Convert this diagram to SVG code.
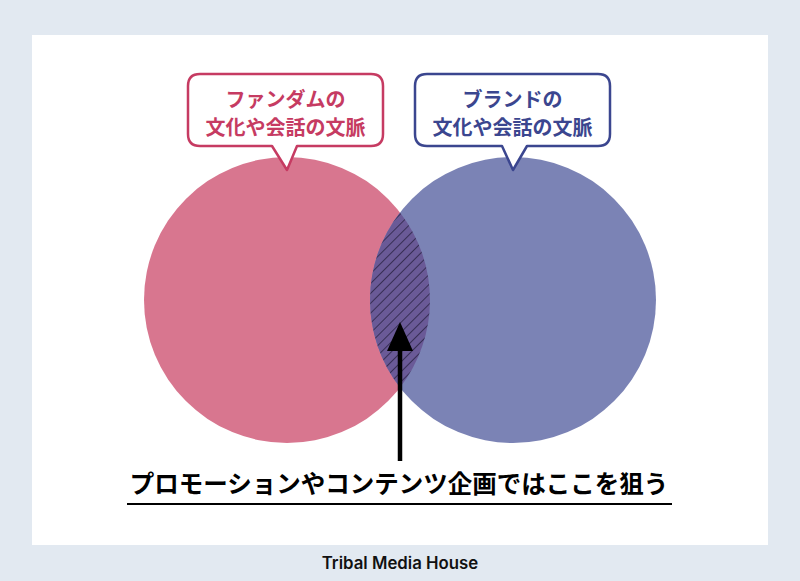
<svg xmlns="http://www.w3.org/2000/svg" width="800" height="581" viewBox="0 0 800 581">
  <defs>
    <style>
      .jp { font-family: "Noto Sans CJK JP", "Noto Sans", sans-serif; font-weight: 700; text-anchor: middle; }
      .bubble { fill: #ffffff; stroke-width: 2.5; stroke-linejoin: round; }
    </style>
    <pattern id="hatch" width="7" height="7" patternUnits="userSpaceOnUse" patternTransform="rotate(-45)">
      <rect width="7" height="7" fill="#6a5a97"/>
      <line x1="0" y1="0" x2="7" y2="0" stroke="#1a1530" stroke-width="1.3"/>
    </pattern>
  </defs>
  <rect x="0" y="0" width="800" height="581" fill="#e2e9f1"/>
  <rect x="32" y="35" width="736" height="510" fill="#ffffff"/>

  <g id="fandom-circle">
    <circle cx="287" cy="300" r="143" fill="#d8768f"/>
  </g>
  <g id="brand-circle">
    <circle cx="513" cy="300" r="143" fill="#7b83b5"/>
  </g>
  <g id="overlap">
    <path d="M400,212.4 A143,143 0 0,0 400,387.6 A143,143 0 0,0 400,212.4 Z" fill="url(#hatch)"/>
  </g>

  <g id="fandom-bubble">
    <path class="bubble" stroke="#c63b62" d="M200,74 H371 Q383,74 383,86 V134 Q383,146 371,146 H297 L287,170 L272,146 H200 Q188,146 188,134 V86 Q188,74 200,74 Z"/>
    <text class="jp" x="285.5" y="107" font-size="20" fill="#c63b62">ファンダムの</text>
    <text class="jp" x="285.5" y="135" font-size="20" fill="#c63b62">文化や会話の文脈</text>
  </g>
  <g id="brand-bubble">
    <path class="bubble" stroke="#3b468f" d="M427,74 H598 Q610,74 610,86 V134 Q610,146 598,146 H527 L513,170 L502,146 H427 Q415,146 415,134 V86 Q415,74 427,74 Z"/>
    <text class="jp" x="512.5" y="107" font-size="20" fill="#3b468f">ブランドの</text>
    <text class="jp" x="512.5" y="135" font-size="20" fill="#3b468f">文化や会話の文脈</text>
  </g>

  <g id="connectors">
    <line x1="400" y1="461" x2="400" y2="348" stroke="#000" stroke-width="4.5"/>
    <path d="M400,322 L413,351 L387,351 Z" fill="#000"/>
  </g>

  <g id="target-label">
    <text class="jp" x="399" y="493" font-size="24.5" font-weight="900" fill="#000">プロモーションやコンテンツ企画ではここを狙う</text>
    <line x1="127" y1="504" x2="672" y2="504" stroke="#000" stroke-width="2"/>
  </g>

  <g id="footer">
    <text x="400" y="569" font-family="Inter, Roboto, sans-serif" font-weight="600" font-size="16.8" fill="#111" text-anchor="middle">Tribal Media House</text>
  </g>
</svg>
